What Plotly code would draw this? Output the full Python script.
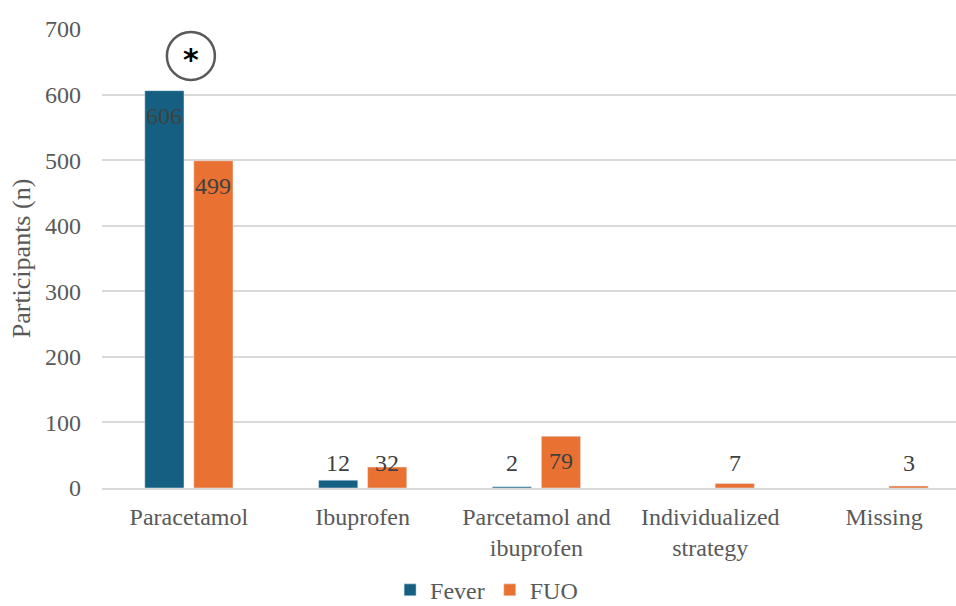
import plotly.graph_objects as go

categories = ["Paracetamol", "Ibuprofen", "Parcetamol and<br>ibuprofen", "Individualized<br>strategy", "Missing"]
fever = [606, 12, 2, None, None]
fuo = [499, 32, 79, 7, 3]
y_ticks = [0, 100, 200, 300, 400, 500, 600, 700]

FONT = "Liberation Serif, Times New Roman, serif"
C_FEVER = "#156082"
C_FUO = "#E97132"
FS = 24

fig = go.Figure()
fig.add_bar(name="Fever", x=categories, y=fever, marker_color=C_FEVER)
fig.add_bar(name="FUO", x=categories, y=fuo, marker_color=C_FUO)

# data labels, "inside end" style
for vals, shift in ((fever, -24.5), (fuo, 24.5)):
    for cat, v in zip(categories, vals):
        if v is None:
            continue
        if v > 60:
            fig.add_annotation(x=cat, y=v, xref="x", yref="y", text=str(v), showarrow=False,
                               xshift=shift, yanchor="top", yshift=-10,
                               font=dict(family=FONT, size=FS, color="#404040"))
        else:
            fig.add_annotation(x=cat, y=0, xref="x", yref="y", text=str(v), showarrow=False,
                               xshift=shift, yanchor="bottom", yshift=10,
                               font=dict(family=FONT, size=FS, color="#404040"))

# circle with asterisk above Paracetamol / Fever
fig.add_shape(type="circle", xref="x", yref="y", xsizemode="pixel", ysizemode="pixel",
              xanchor=0, yanchor=659, x0=-24 + 2, x1=24 + 2, y0=-24, y1=24,
              line=dict(color="#595959", width=2.5), fillcolor="rgba(0,0,0,0)")
fig.add_annotation(x=0, y=659, xref="x", yref="y", text="<b>*</b>", showarrow=False,
                   xshift=2, yshift=-4,
                   font=dict(family="DejaVu Sans, sans-serif", size=30, color="#000000"))

fig.update_layout(
    width=956, height=606,
    margin=dict(l=102, r=0, t=29, b=118),
    paper_bgcolor="white", plot_bgcolor="white",
    barmode="group", bargap=0.436, bargroupgap=0.2,
    font=dict(family=FONT, size=FS, color="#595959"),
    showlegend=True,
    legend=dict(orientation="h", xref="container", yref="container",
                x=0.509, xanchor="center", y=0.026, yanchor="middle",
                font=dict(family=FONT, size=FS, color="#595959"),
                itemwidth=30, traceorder="normal"),
)
fig.update_xaxes(range=[-0.5, 4.414], showline=True, linecolor="#D9D9D9", linewidth=1.5,
                 ticks="", showgrid=False, ticklabelstandoff=6,
                 tickfont=dict(family=FONT, size=FS, color="#595959"))
fig.update_yaxes(range=[0, 700], tickvals=y_ticks, showgrid=True, gridcolor="#D9D9D9",
                 gridwidth=1.5, zeroline=False, showline=False, ticks="",
                 ticklabelstandoff=20,
                 tickfont=dict(family=FONT, size=FS, color="#595959"),
                 title=dict(text="Participants (n)", standoff=6,
                            font=dict(family=FONT, size=26, color="#595959")))

fig.write_html("out.html")
